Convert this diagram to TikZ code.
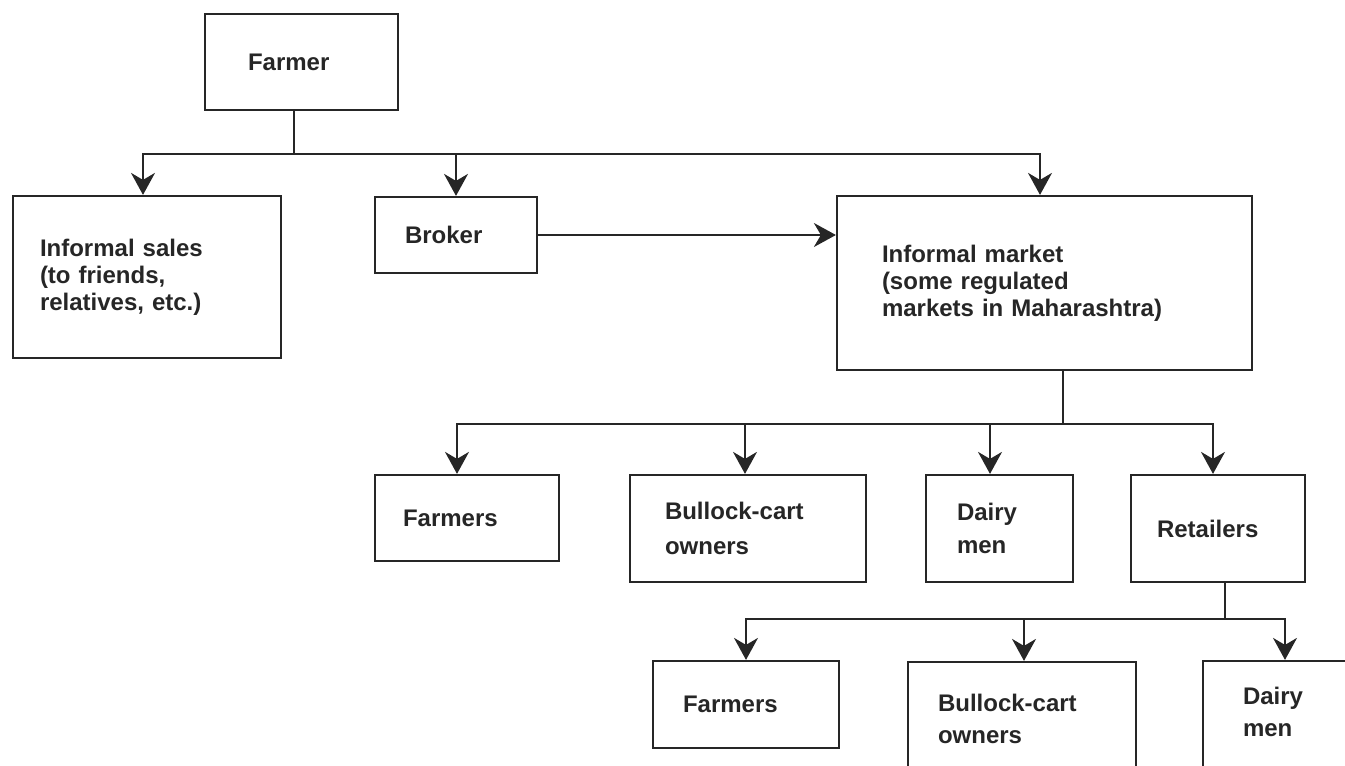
\documentclass[tikz,border=0pt]{standalone}
\usepackage{fontspec}
\setmainfont{Liberation Sans}
\usetikzlibrary{arrows.meta}

\begin{document}
\begin{tikzpicture}[x=1pt, y=-1pt, >={Stealth[length=22pt, width=24pt, inset=7pt]},
	box/.style={draw=black!85, line width=2.2pt, rectangle, align=left, inner ysep=0pt, text=black!85, font=\fontsize{24}{27}\selectfont\bfseries},
	link/.style={draw=black!85, line width=2pt}]
					\useasboundingbox (0,0) rectangle (1345,766);
					\clip (0,0) rectangle (1345,766);
					\node[box, minimum width=193pt, minimum height=96pt, inner xsep=43pt, text width=107pt] (farmer)at(301.5, 62) {Farmer};
					\node[box, minimum width=268pt, minimum height=162pt, inner xsep=27pt, text width=214pt] (sales)at(147, 277) {Informal sales\\(to friends,\\relatives, etc.)};
					\node[box, minimum width=162pt, minimum height=76pt, inner xsep=30pt, text width=102pt] (broker)at(456, 235) {Broker};
					\node[box, minimum width=415pt, minimum height=174pt, inner xsep=45pt, text width=325pt] (market)at(1044.5, 283) {Informal market\\(some regulated\\markets in Maharashtra)};
					\node[box, minimum width=184pt, minimum height=86pt, inner xsep=28pt, text width=128pt] (farmersA)at(467, 518) {Farmers};
					\node[box, minimum width=236pt, minimum height=107pt, inner xsep=35pt, text width=166pt] (bullockA)at(748, 528.5) {Bullock-cart\\[8pt]owners};
					\node[box, minimum width=147pt, minimum height=107pt, inner xsep=31pt, text width=85pt] (dairyA)at(999.5, 528.5) {Dairy\\[6pt]men};
					\node[box, minimum width=174pt, minimum height=107pt, inner xsep=26pt, text width=122pt] (retail)at(1218, 528.5) {Retailers};
					\node[box, minimum width=186pt, minimum height=87pt, inner xsep=30pt, text width=126pt] (farmersB)at(746, 704.5) {Farmers};
					\node[box, minimum width=228pt, minimum height=114pt, inner xsep=30pt, text width=168pt] (bullockB)at(1022, 719) {Bullock-cart\\[5pt]owners};
					\node[box, minimum width=170pt, minimum height=130pt, inner xsep=40pt, text width=90pt, text height=17pt, text depth=61pt] (dairyB)at(1288, 726) {Dairy\\[5pt]men};
					% farmer to first level
					\draw[link] ([xshift=-8pt]farmer.south) -- ++(0,43) coordinate (j1);
					\draw[link, ->] (j1) -| ([xshift=-4pt]sales.north);
					\draw[link, ->] (j1) -| (broker);
					\draw[link, ->] (j1) -| ([xshift=-4.5pt]market.north);
					\draw[link, ->] (broker.east) -- (broker.east -| market.west);
					% market to buyers
					\draw[link] ([xshift=18pt]market.south) -- ++(0,53) coordinate (j2);
					\draw[link, ->] (j2) -| ([xshift=-10pt]farmersA.north);
					\draw[link, ->] (j2) -| ([xshift=-3pt]bullockA.north);
					\draw[link, ->] (j2) -| ([xshift=-9.5pt]dairyA.north);
					\draw[link, ->] (j2) -| ([xshift=-5pt]retail.north);
					% retailers to buyers
					\draw[link] ([xshift=7pt]retail.south) -- ++(0,36) coordinate (j3);
					\draw[link, ->] (j3) -| (farmersB);
					\draw[link, ->] (j3) -| ([xshift=2pt]bullockB.north);
					\draw[link, ->] (j3) -| ([xshift=-3pt]dairyB.north);
				\end{tikzpicture}
\end{document}
